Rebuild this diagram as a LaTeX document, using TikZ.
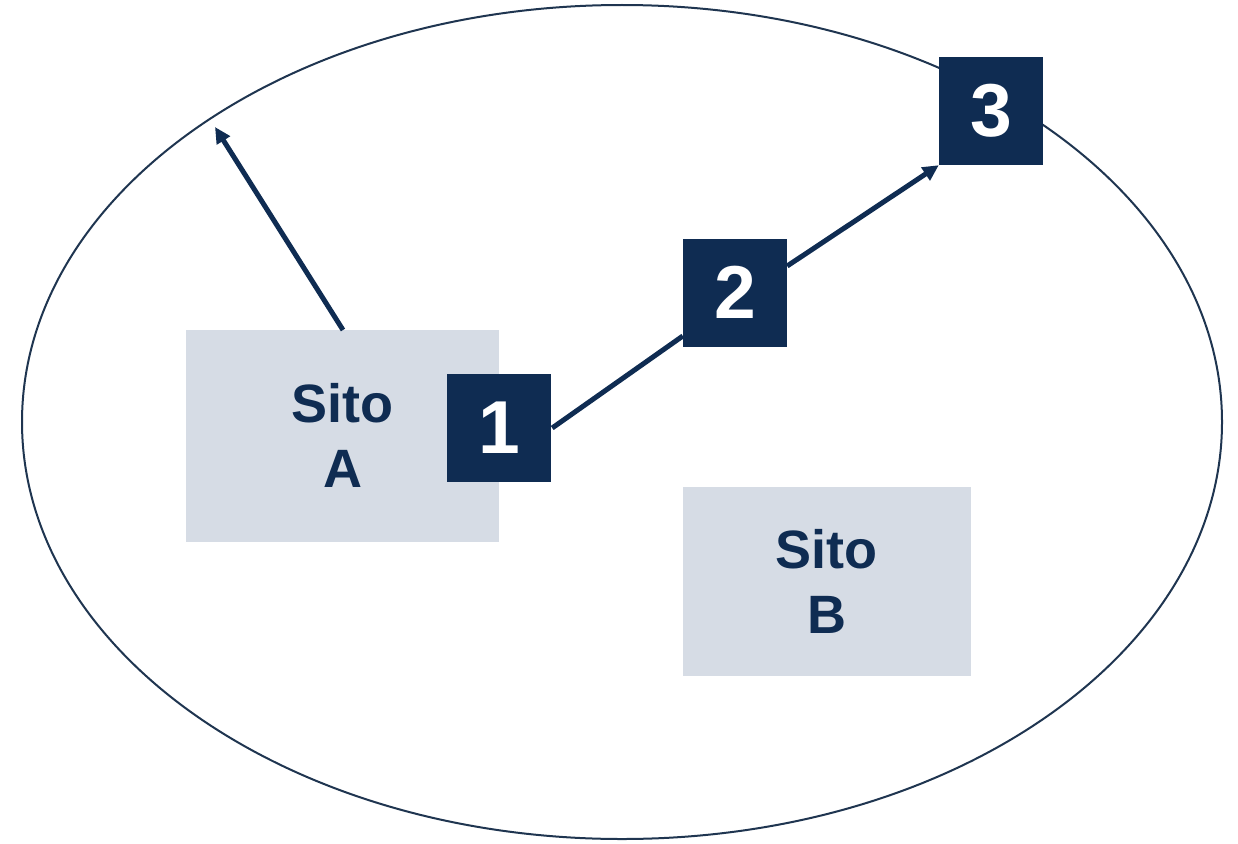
\documentclass[tikz,border=0pt]{standalone}
\usepackage{fontspec}
\setmainfont{Liberation Sans}
\usetikzlibrary{arrows.meta}
\definecolor{navy}{HTML}{0F2C52}
\definecolor{lightbox}{HTML}{D6DCE5}
\definecolor{ringc}{HTML}{1F3550}
\begin{document}
\begin{tikzpicture}[x=1pt,y=-1pt,
  sitebox/.style={fill=lightbox,draw=none,inner sep=0pt,text=navy,font=\fontsize{54}{65}\selectfont\bfseries,align=center},
  numbox/.style={fill=navy,draw=none,inner sep=0pt,minimum width=104pt,minimum height=108pt,text=white,font=\fontsize{75}{80}\selectfont\bfseries},
  conn/.style={draw=navy,line width=5pt},
  arr/.style={conn,-{Triangle[length=16pt,width=15pt]}}]
\useasboundingbox (0,0) rectangle (1238,843);
\draw[ringc,line width=2pt] (622,422) ellipse [x radius=600, y radius=417];
\node[sitebox,minimum width=313pt,minimum height=212pt] (A) at (342.5,435.5) {Sito\\A};
\node[sitebox,minimum width=288pt,minimum height=189pt] (B) at (826.5,581.5) {Sito\\B};
\node[numbox] (n1) at (499,428) {1};
\node[numbox] (n2) at (735,292.5) {2};
\node[numbox] (n3) at (991,111) {3};
\coordinate (t) at (215,127);
\draw[arr] (343,330) -- (t);
\draw[conn] (n1.east) ++(1,0) coordinate (s1) (s1) -- (n2.west |- 0,336);
\draw[arr] (n2.east |- 0,266) -- (n3.south west);
\end{tikzpicture}
\end{document}
